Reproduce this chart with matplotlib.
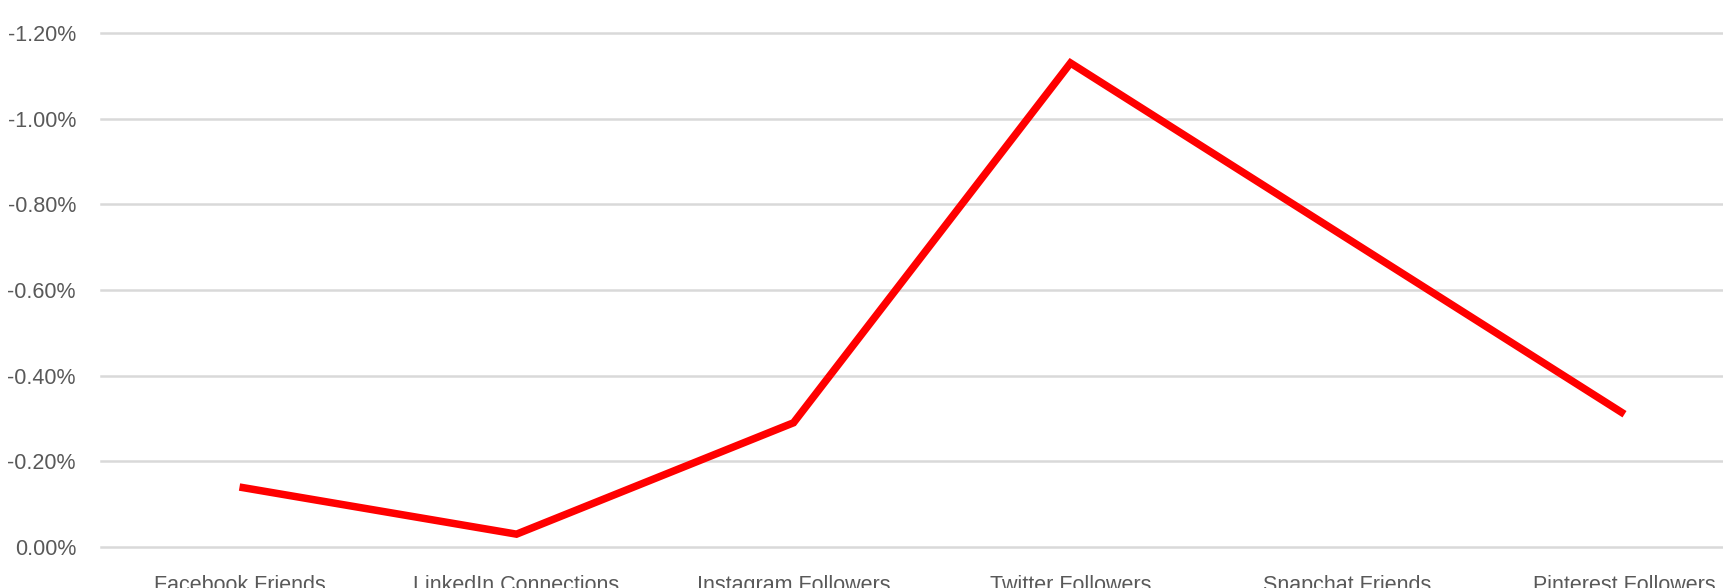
import matplotlib.pyplot as plt
from matplotlib.ticker import FuncFormatter, MultipleLocator

# データ
categories = ['Facebook Friends', 'LinkedIn Connections', 'Instagram Followers',
              'Twitter Followers', 'Snapchat Friends', 'Pinterest Followers']
change = [-0.0014, -0.0003, -0.0029, -0.0113, -0.0072, -0.0031]

plt.rcParams['font.family'] = ['Liberation Sans', 'DejaVu Sans']

fig = plt.figure(figsize=(17.23, 5.88), dpi=100)
# 右端と下端は元画像で切れているので、軸を図の外まで伸ばす
ax = fig.add_axes([101 / 1723, 1 - 547 / 588, 1662 / 1723, 514 / 588])

x = range(len(categories))
ax.plot(x, change, color='#ff0000', linewidth=5.4, solid_capstyle='butt',
        solid_joinstyle='miter', zorder=3)

ax.set_xlim(-0.5, len(categories) - 0.5)
ax.set_ylim(0, -0.012)  # 軸を反転
ax.yaxis.set_major_locator(MultipleLocator(0.002))
ax.yaxis.set_major_formatter(FuncFormatter(lambda v, p: f'{v * 100:.2f}%' if abs(v) > 1e-12 else '0.00%'))
ax.set_xticks(list(x))
ax.set_xticklabels(categories)

ax.grid(axis='y', color='#d9d9d9', linewidth=1.8)
for gl in ax.yaxis.get_gridlines():
    gl.set_clip_on(False)  # 端のグリッド線が半分切れないように
ax.set_axisbelow(True)
for s in ax.spines.values():
    s.set_visible(False)
ax.tick_params(axis='both', length=0, colors='#595959', labelsize=15.5)
ax.tick_params(axis='y', pad=18)
ax.tick_params(axis='x', pad=20)

fig.savefig('out.png', dpi=100)
